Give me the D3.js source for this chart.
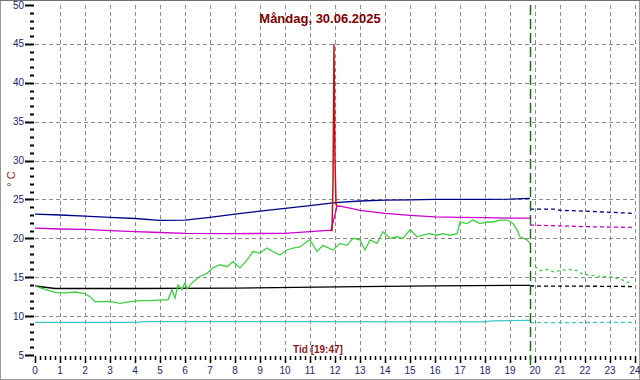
<!DOCTYPE html>
<html>
<head>
<meta charset="utf-8">
<script src="https://cdn.jsdelivr.net/npm/d3@7"></script>
<style>
  body { margin: 0; background: #fff; }
  svg { display: block; font-family: "Liberation Sans", Arial, sans-serif; }
</style>
</head>
<body>
<script>
// measured values (hours, °C)
var blueHours  = [0, 1, 2, 3, 4, 5, 6, 7, 8, 9, 10, 11, 12, 13, 14, 15, 16, 17, 18, 19, 19.8];
var blueTemps  = [23.1, 23.0, 22.85, 22.7, 22.55, 22.3, 22.35, 22.7, 23.1, 23.5, 23.85, 24.2, 24.6, 24.8, 24.9, 24.95, 25.0, 25.0, 25.0, 25.05, 25.15];
var blueFcHours = [19.8, 20.8, 21.0, 22, 23, 24];
var blueFcTemps = [23.75, 23.75, 23.6, 23.5, 23.35, 23.2];

var magHours = [0, 1, 2, 3, 4, 5, 6, 8, 10, 11.85, 12.08, 12.2, 12.5, 13, 14, 15, 16, 17, 18, 19, 19.8];
var magTemps = [21.3, 21.2, 21.15, 21.0, 20.85, 20.75, 20.65, 20.6, 20.65, 21.05, 24.1, 24.15, 23.95, 23.6, 23.2, 22.95, 22.75, 22.7, 22.65, 22.6, 22.6];
var magFcHours = [19.8, 21, 22, 23, 24];
var magFcTemps = [21.7, 21.6, 21.5, 21.45, 21.4];

var redHours = [11.8, 11.88, 11.92, 11.96, 12.0, 12.04, 12.08];
var redTemps = [21.0, 21.0, 27.1, 45.0, 30.0, 24.5, 24.1];

var greenHours = [0, 0.4, 0.8, 1.2, 1.6, 2.0, 2.2, 2.4, 3.0, 3.4, 3.8, 4.2, 4.6, 5.0, 5.32, 5.48, 5.6, 5.72, 5.88, 6.0, 6.08,
  6.32, 6.6, 6.88, 7.12, 7.4, 7.68, 7.92, 8.2, 8.48, 8.72, 9.0, 9.28, 9.52, 9.8, 10.08, 10.32, 10.6, 10.88, 11.0,
  11.28, 11.52, 11.92, 12.2, 12.48, 12.72, 13.0, 13.2, 13.4, 13.68, 13.92, 14.2, 14.48, 14.72, 15.0, 15.28, 15.52,
  15.8, 16.08, 16.32, 16.6, 16.88, 17.0, 17.28, 17.52, 17.8, 18.08, 18.32, 18.6, 18.88, 19.12, 19.28, 19.4, 19.68, 19.8];
var greenTemps = [13.87, 13.45, 13.06, 13.0, 13.1, 12.9, 12.5, 11.85, 11.9, 11.65, 11.85, 12.0, 12.0, 12.1, 12.1, 13.4, 12.3, 14.0, 13.4, 14.3, 13.5,
  14.4, 15.1, 15.5, 16.2, 16.6, 16.35, 17.0, 16.2, 17.2, 18.3, 18.1, 18.75, 18.3, 17.85, 18.5, 18.75, 18.9, 19.6, 19.8,
  18.3, 19.1, 18.5, 19.35, 19.1, 20.0, 19.8, 18.5, 19.8, 19.35, 20.85, 20.0, 20.2, 20.0, 21.1, 20.2, 20.4,
  20.6, 20.4, 20.6, 20.4, 20.6, 22.1, 21.9, 22.35, 21.9, 22.1, 22.1, 22.35, 22.35, 21.9, 21.1, 20.2, 19.8, 19.35];
var greenFcHours = [20.0, 20.2, 20.5, 20.75, 21.1, 21.4, 21.7, 21.9, 22.5, 23.1, 23.5, 23.9];
var greenFcTemps = [16.4, 15.85, 16.0, 15.7, 15.9, 16.0, 15.85, 15.4, 15.15, 15.0, 14.65, 14.1];

var blackHours = [0, 0.8, 4, 8, 13, 16, 19.8];
var blackTemps = [13.87, 13.55, 13.55, 13.6, 13.8, 13.9, 13.96];
var blackFcHours = [19.8, 22, 24];
var blackFcTemps = [13.87, 13.85, 13.8];

var cyanHours = [0, 4, 4.5, 10, 18, 18.3, 19.8];
var cyanTemps = [9.2, 9.2, 9.3, 9.3, 9.25, 9.4, 9.45];
var cyanFcHours = [19.8, 24];
var cyanFcTemps = [9.15, 9.2];

var yTicks = [5, 10, 15, 20, 25, 30, 35, 40, 45, 50];
var xTicks = d3.range(0, 25);
var nowHour = 19 + 47 / 60;

var width = 640, height = 380;
var svg = d3.select("body").append("svg")
    .attr("width", width)
    .attr("height", height);

var x = d3.scaleLinear().domain([0, 24]).range([35, 635]);
var y = d3.scaleLinear().domain([5, 50]).range([355, 5]);

//frame
svg.append("rect")
    .attr("x", 0.5).attr("y", 0.5)
    .attr("width", width - 1).attr("height", height - 1)
    .attr("fill", "#fff")
    .attr("stroke", "#9a9a9a");
svg.append("line")
    .attr("x1", 0).attr("x2", width).attr("y1", 0.5).attr("y2", 0.5)
    .attr("stroke", "#707070");

//grid
svg.selectAll(".hgrid")
    .data(yTicks.filter(function(d){ return d > 5 && d < 50; }))
    .enter().append("line")
    .attr("x1", x(0)).attr("x2", x(24))
    .attr("y1", function(d){ return Math.round(y(d)) + 0.5; })
    .attr("y2", function(d){ return Math.round(y(d)) + 0.5; })
    .attr("stroke", "#8c8c8c")
    .attr("stroke-dasharray", "4,3");
svg.selectAll(".vgrid")
    .data(xTicks.filter(function(d){ return d > 0; }))
    .enter().append("line")
    .attr("y1", y(50)).attr("y2", y(5))
    .attr("x1", function(d){ return Math.round(x(d)) + 0.5; })
    .attr("x2", function(d){ return Math.round(x(d)) + 0.5; })
    .attr("stroke", "#8c8c8c")
    .attr("stroke-dasharray", "4,3");

//y axis ticks
var yAxis = svg.append("g");
yAxis.selectAll(".ymin")
    .data(d3.range(5, 51, 1))
    .enter().append("line")
    .attr("x1", function(d){ return d % 5 === 0 ? 25 : 30; })
    .attr("x2", 34)
    .attr("y1", function(d){ return Math.round(y(d)) + 0.5; })
    .attr("y2", function(d){ return Math.round(y(d)) + 0.5; })
    .attr("stroke", "#000")
    .attr("stroke-width", 2);
yAxis.selectAll(".ylab")
    .data(yTicks)
    .enter().append("text")
    .attr("x", 24)
    .attr("y", function(d){ return y(d) + 3.5; })
    .attr("text-anchor", "end")
    .attr("font-size", 10)
    .attr("fill", "#24246e")
    .text(function(d){ return d; });

//x axis ticks
var xAxis = svg.append("g");
xAxis.selectAll(".xmin")
    .data(d3.range(0, 24.01, 0.2))
    .enter().append("line")
    .attr("x1", function(d){ return Math.round(x(d)) + 0.5; })
    .attr("x2", function(d){ return Math.round(x(d)) + 0.5; })
    .attr("y1", 356)
    .attr("y2", function(d){ return Math.abs(d - Math.round(d)) < 0.01 ? 363 : 360; })
    .attr("stroke", "#000")
    .attr("stroke-width", 1.5);
xAxis.selectAll(".xlab")
    .data(xTicks)
    .enter().append("text")
    .attr("x", function(d){ return x(d); })
    .attr("y", 374)
    .attr("text-anchor", "middle")
    .attr("font-size", 10)
    .attr("fill", "#24246e")
    .text(function(d){ return d; });

//series
var line = d3.line()
    .x(function(d){ return x(d[0]); })
    .y(function(d){ return y(d[1]); });

function drawSeries(hours, temps, color, dash, w){
    svg.append("path")
        .datum(d3.zip(hours, temps))
        .attr("d", line)
        .attr("fill", "none")
        .attr("stroke", color)
        .attr("stroke-width", w || 1.3)
        .attr("stroke-dasharray", dash || null);
}

drawSeries(cyanHours, cyanTemps, "#3cc8c8");
drawSeries(cyanFcHours, cyanFcTemps, "#3cc8c8", "4,3");
drawSeries(blackHours, blackTemps, "#000");
drawSeries(blackFcHours, blackFcTemps, "#000", "4,3");
drawSeries(greenHours, greenTemps, "#40d040");
drawSeries(greenFcHours, greenFcTemps, "#40d040", "3,3");
drawSeries(blueHours, blueTemps, "#000088");
drawSeries(blueFcHours, blueFcTemps, "#000088", "4,3");
drawSeries(magHours, magTemps, "#cc00cc");
drawSeries(magFcHours, magFcTemps, "#cc00cc", "4,3");
drawSeries(redHours, redTemps, "#c81010", null, 1.5);

//current time marker
svg.append("line")
    .attr("x1", Math.round(x(nowHour)) + 0.5)
    .attr("x2", Math.round(x(nowHour)) + 0.5)
    .attr("y1", y(50)).attr("y2", 365)
    .attr("stroke", "#1f6e1f")
    .attr("stroke-width", 1.5)
    .attr("stroke-dasharray", "10,4");

//texts
svg.append("text")
    .attr("x", 320).attr("y", 23)
    .attr("text-anchor", "middle")
    .attr("font-size", 13)
    .attr("font-weight", "bold")
    .attr("fill", "#800000")
    .text("Måndag, 30.06.2025");

svg.append("text")
    .attr("transform", "translate(15,179) rotate(-90)")
    .attr("text-anchor", "middle")
    .attr("font-size", 11)
    .attr("fill", "#8b1a1a")
    .text("° C");

svg.append("text")
    .attr("x", 318).attr("y", 353)
    .attr("text-anchor", "middle")
    .attr("font-size", 10)
    .attr("font-weight", "bold")
    .attr("fill", "#8b1a1a")
    .text("Tid [19:47]");
</script>
</body>
</html>
